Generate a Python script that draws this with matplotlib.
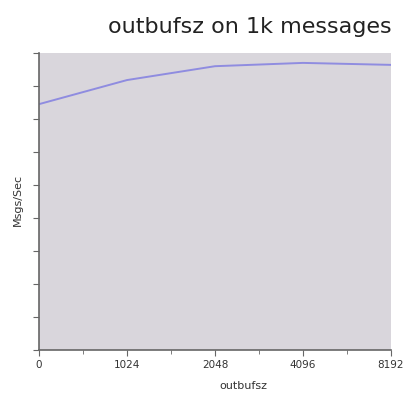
import numpy as np
import matplotlib.pyplot as plt

# дані
sizes = ["0", "1024", "2048", "4096", "8192"]
msgs_per_sec = [74500, 81800, 86000, 87000, 86400]

fig = plt.figure(figsize=(4.07, 3.96), dpi=100)
ax = fig.add_axes([39 / 407, 1 - 350 / 396, 352 / 407, 297 / 396])
ax.set_facecolor("#d9d6dc")

x = np.arange(len(sizes))
ax.plot(x, msgs_per_sec, color="#8f8ce0", linewidth=1.4)

ax.set_xlim(0, len(sizes) - 1)
ax.set_ylim(0, 90000)
ax.set_xticks(x)
ax.set_xticklabels(sizes, fontsize=7.5, color="#333333")
ax.set_xticks(x[:-1] + 0.5, minor=True)
ax.set_yticks(np.arange(0, 90001, 10000))
ax.set_yticklabels([])

for s in ["top", "right"]:
    ax.spines[s].set_visible(False)
for s in ["left", "bottom"]:
    ax.spines[s].set_color("#666666")
    ax.spines[s].set_linewidth(1.2)
ax.tick_params(axis="both", which="both", color="#666666", length=4, direction="out")
ax.tick_params(axis="x", which="minor", length=3)

fig.text(250 / 407, 1 - 27 / 396, "outbufsz on 1k messages", ha="center", va="center",
         fontsize=16, color="#222222")
fig.text(243 / 407, 1 - 386 / 396, "outbufsz", ha="center", va="center", fontsize=8, color="#333333")
fig.text(18 / 407, 1 - 200 / 396, "Msgs/Sec", ha="center", va="center", rotation=90,
         fontsize=8, color="#333333")

fig.savefig("out.png", dpi=100)
